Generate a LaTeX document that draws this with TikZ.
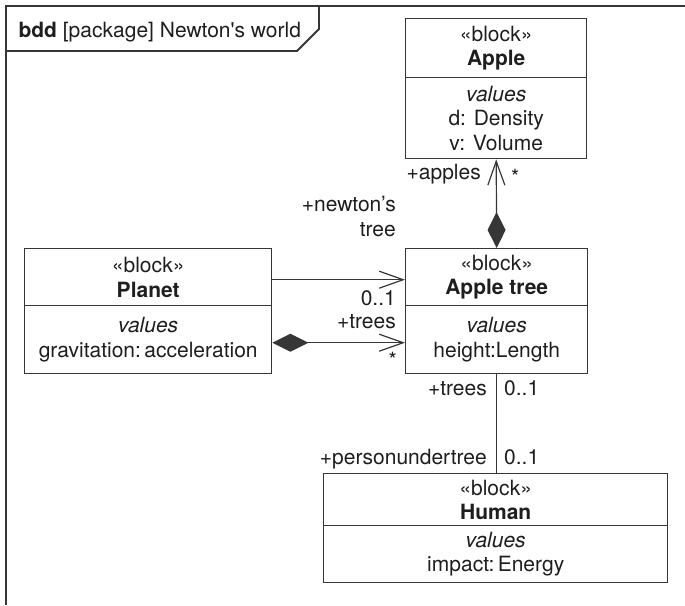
\documentclass[tikz,border=0pt]{standalone}
\usepackage{fontspec}
\setmainfont{TeX Gyre Heros}
\newfontfamily\tabfont{TeX Gyre Heros}
\usetikzlibrary{arrows.meta}
\definecolor{ink}{HTML}{1E1E1E}
\definecolor{edgec}{HTML}{363636}
\newcommand{\blk}[1]{«block»\\\textbf{#1}}
\tikzset{every node/.style={font=\fontsize{21}{24.5}\selectfont,text=ink},
  comp/.style={draw=edgec,line width=1.4pt,anchor=north west,inner sep=0pt,align=center},
  lbl/.style={inner sep=0pt},
  assoc/.style={draw=edgec,line width=1.2pt},
  nav/.style={assoc,-{Straight Barb[length=24pt,width=17pt]}},
  part/.style={assoc,{Diamond[length=36pt,width=18pt]}-{Straight Barb[length=24pt,width=17pt]}},
  frame/.style={draw=edgec,line width=1.8pt}}

\begin{document}
\begin{tikzpicture}[x=1pt,y=-1pt]
\useasboundingbox (0,0) rectangle (685,605);
% frame and name tab
\draw[frame] (6,605)--(6,6)--(685,6);
\draw[frame] (6,51)--(297,51)--(319,29)--(319,6);
\node[anchor=base west] (title) at (15,37) {\tabfont\textbf{bdd} [package] Newton's world};
% blocks
\node[comp,minimum width=181,minimum height=59] (applehead) at (405,18) {\blk{Apple}};
\node[comp,minimum width=181,minimum height=81] (applevals) at (405,77) {\textit{values}\\d: Density\\v: Volume};
\node[comp,minimum width=182,minimum height=57] (treehead) at (405,248) {\blk{Apple tree}};
\node[comp,minimum width=182,minimum height=68] (treevals) at (405,305) {\textit{values}\\height:Length};
\node[comp,minimum width=247,minimum height=57] (planethead) at (24,248) {\blk{Planet}};
\node[comp,minimum width=247,minimum height=68] (planetvals) at (24,305) {\textit{values}\\gravitation:\,acceleration};
\node[comp,minimum width=344,minimum height=52] (humanhead) at (323,473) {\blk{Human}};
\node[comp,minimum width=344,minimum height=57] (humanvals) at (323,525) {\textit{values}\\impact:\,Energy};
% connectors
\draw[part] (treehead.north) -- (applevals.south);
\draw[nav] ([yshift=-2.5pt]planethead.east) -- ([yshift=-2.5pt]treehead.west);
\draw[part] ([yshift=-3pt]planetvals.east) -- ([yshift=-3pt]treevals.west);
\draw[assoc] (treevals.south) -- (treevals.south |- humanhead.north);
% role names and multiplicities
\node[lbl,anchor=base east] (applesrole) at (481,179) {+apples};
\node[lbl,anchor=base west] (applesmult) at (511,184) {*};
\node[lbl,anchor=base east,align=right] (newtonrole) at (396,236) {+newton’s\\tree};
\node[lbl,anchor=base east] (newtonmult) at (396,305) {0..1};
\node[lbl,anchor=base east] (treesrole) at (396,328) {+trees};
\node[lbl,anchor=base east] (treesmult) at (397,367) {*};
\node[lbl,anchor=base east] (trees2role) at (487,395) {+trees};
\node[lbl,anchor=base west] (trees2mult) at (504,395) {0..1};
\node[lbl,anchor=base east] (personrole) at (487,464) {+personundertree};
\node[lbl,anchor=base west] (personmult) at (504,464) {0..1};
\end{tikzpicture}
\end{document}
